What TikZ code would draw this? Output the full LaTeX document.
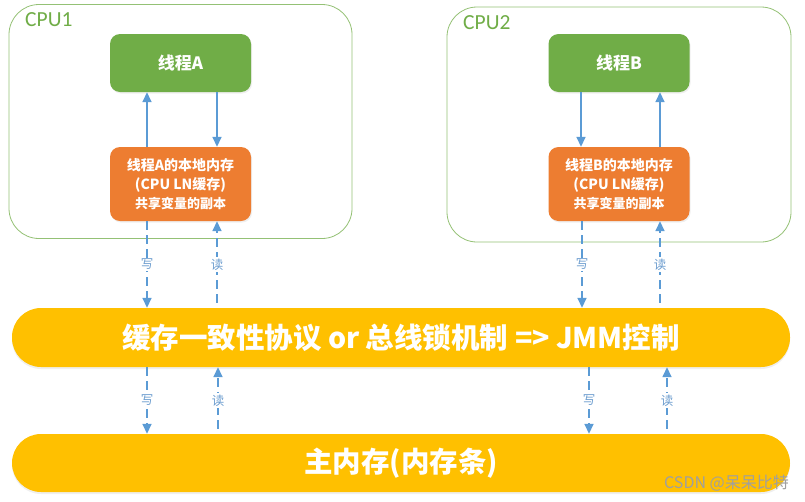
\documentclass[tikz,border=0pt]{standalone}
\usepackage{fontspec}
\setmainfont{Noto Sans CJK SC}
\newfontfamily\cpufont{Carlito}
\usetikzlibrary{arrows.meta,shadows}
\definecolor{cgreen}{HTML}{70AD47}
\definecolor{corange}{HTML}{ED7D31}
\definecolor{cgold}{HTML}{FFC000}
\definecolor{cblue}{HTML}{5B9BD5}
\definecolor{clbl}{HTML}{6C9DCF}
\tikzset{
  cpubox/.style={draw=cgreen!75, line width=0.8pt, rounded corners=30pt, fill=white},
  cpulabel/.style={text=cgreen, font=\cpufont\fontsize{21.5}{23}\selectfont, anchor=west, inner sep=0pt},
  thr/.style={fill=cgreen, rounded corners=10pt, minimum width=141pt, minimum height=58pt,
    text=white, font=\bfseries\fontsize{17}{19}\selectfont, inner sep=0pt,
    drop shadow={opacity=0.12, shadow xshift=1pt, shadow yshift=-1.5pt}},
  loc/.style={fill=corange, rounded corners=10pt, minimum width=141pt, minimum height=74pt,
    text=white, font=\bfseries\fontsize{14}{19}\selectfont, inner sep=0pt, align=center,
    drop shadow={opacity=0.12, shadow xshift=1pt, shadow yshift=-1.5pt}},
  bar/.style={fill=cgold, rounded corners=29pt, minimum width=778pt, minimum height=59pt,
    text=white, font=\bfseries\fontsize{28.5}{30}\selectfont, inner sep=0pt,
    drop shadow={opacity=0.12, shadow xshift=0pt, shadow yshift=-2pt}},
  arr/.style={draw=cblue, line width=1.6pt, -{Triangle[length=10pt,width=9pt]}},
  darr/.style={arr, dash pattern=on 9pt off 5pt},
  lbl/.style={fill=white, text=clbl, inner sep=1.5pt, font=\fontsize{12.5}{13}\selectfont},
}
\begin{document}
\begin{tikzpicture}[x=1pt,y=-1pt]
\useasboundingbox (0,0) rectangle (805,501);
\fill[white] (0,0) rectangle (805,501);
% CPU boxes
\node[cpubox, minimum width=343pt, minimum height=234pt] (c1) at (180.5,121.5) {};
\node[cpubox, minimum width=344pt, minimum height=235pt] (c2) at (619,124.5) {};
\node[cpulabel] (c1l) at (25,20) {CPU1};
\node[cpulabel] (c2l) at (463,23) {CPU2};
% threads
\node[thr] (ta) at (180.5,63) {线程A};
\node[thr] (tb) at (619,63) {线程B};
\node[loc] (la) at (180.5,184) {线程A的本地内存\\(CPU LN缓存)\\{\fontsize{13}{15}\selectfont 共享变量的副本}};
\node[loc] (lb) at (619,184) {线程B的本地内存\\(CPU LN缓存)\\{\fontsize{13}{15}\selectfont 共享变量的副本}};
% bars
\node[bar] (bus) at (401,337.5) {缓存一致性协议 or 总线锁机制 => JMM控制};
\node[bar, minimum height=58pt] (mem) at (401,463) {主内存(内存条)};
% watermark
\node[anchor=east, text=gray!75, font=\fontsize{16}{18}\selectfont, inner sep=0pt] (wm) at (789,483) {CSDN @呆呆比特};
% arrows in CPU1
\draw[arr] ([xshift=-33.5pt]la.north) -- ([xshift=-33.5pt]ta.south);
\draw[arr] ([xshift=36.5pt]ta.south) -- ([xshift=36.5pt]la.north);
% arrows in CPU2
\draw[arr] ([xshift=-38pt]tb.south) -- ([xshift=-38pt]lb.north);
\draw[arr] ([xshift=41pt]lb.north) -- ([xshift=41pt]tb.south);
% x positions
\coordinate (xa1) at (147,0);
\coordinate (xa2) at (217,0);
\coordinate (xb1) at (582,0);
\coordinate (xb2) at (660,0);
\coordinate (xa3) at (147,0);
\coordinate (xa4) at (218,0);
\coordinate (xb3) at (589,0);
\coordinate (xb4) at (667,0);
% local <-> bus
\draw[darr] (la.south -| xa1) -- node[lbl] {写} (bus.north -| xa1);
\draw[darr, shorten <=5pt] (bus.north -| xa2) -- node[lbl] {读} (la.south -| xa2);
\draw[darr] (lb.south -| xb1) -- node[lbl] {写} (bus.north -| xb1);
\draw[darr, shorten <=5pt] (bus.north -| xb2) -- node[lbl] {读} (lb.south -| xb2);
% bus <-> mem
\draw[darr] (bus.south -| xa3) -- node[lbl] {写} (mem.north -| xa3);
\draw[darr, shorten <=5pt] (mem.north -| xa4) -- node[lbl] {读} (bus.south -| xa4);
\draw[darr] (bus.south -| xb3) -- node[lbl] {写} (mem.north -| xb3);
\draw[darr, shorten <=5pt] (mem.north -| xb4) -- node[lbl] {读} (bus.south -| xb4);
\end{tikzpicture}
\end{document}
